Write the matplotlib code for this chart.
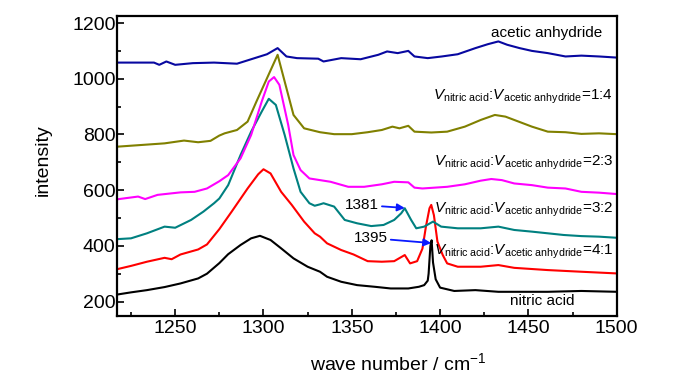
"""Raman spectra of nitric acid / acetic anhydride mixtures."""

import matplotlib
matplotlib.use("Agg")  # headless rendering
import matplotlib.pyplot as plt

plt.rcParams["font.family"] = ["Liberation Sans", "DejaVu Sans"]
plt.rcParams["mathtext.fontset"] = "custom"
plt.rcParams["mathtext.rm"] = "Liberation Sans"
plt.rcParams["mathtext.it"] = "Liberation Sans:italic"

# ---------------------------------------------------------------------------
# Data
# ---------------------------------------------------------------------------

wn_nitric = [1217, 1225, 1234, 1244, 1253, 1263, 1268, 1275, 1280, 1287, 1293,
             1298, 1304, 1310, 1317, 1325, 1332, 1336, 1344, 1353, 1363, 1372,
             1382, 1388, 1391, 1393, 1393.5, 1394.5, 1395.2, 1396, 1397.5, 1400,
             1408, 1420, 1433, 1445, 1461, 1480, 1500]
int_nitric = [225, 233, 241, 252, 265, 283, 300, 338, 370, 403, 427,
              436, 421, 391, 355, 325, 307, 289, 271, 259, 253, 247,
              247, 253, 259, 275, 300, 400, 420, 340, 280, 250,
              238, 241, 235, 235, 235, 238, 235]

wn_41 = [1217, 1225, 1234, 1244, 1248, 1253, 1263, 1268, 1275, 1282, 1291,
         1297, 1300, 1304, 1310, 1316, 1323, 1329, 1332, 1336, 1344, 1351,
         1359, 1367, 1374, 1380, 1383, 1387, 1390, 1392, 1394, 1395, 1396.5,
         1398.5, 1401.5, 1404, 1410, 1423, 1433, 1442, 1461, 1480, 1500]
int_41 = [316, 328, 343, 357, 352, 369, 387, 405, 460, 523, 606,
          657, 675, 660, 594, 547, 487, 445, 433, 409, 385, 369,
          345, 343, 345, 367, 337, 345, 390, 470, 535, 547, 510,
          415, 367, 337, 325, 325, 331, 321, 313, 307, 301]

wn_32 = [1217, 1225, 1234, 1244, 1250, 1259, 1266, 1272, 1275, 1280, 1287,
         1293, 1299, 1303, 1307, 1312, 1317, 1321, 1326, 1329, 1332, 1334,
         1340, 1346, 1353, 1361, 1368, 1374, 1378, 1380, 1383.6, 1386.5,
         1391, 1396, 1400.6, 1410, 1423, 1433, 1442, 1452, 1461, 1470, 1480,
         1490, 1500]
int_32 = [424, 427, 445, 469, 465, 493, 523, 553, 570, 618, 726,
          810, 882, 928, 906, 798, 678, 594, 553, 544, 549, 553,
          541, 493, 481, 471, 475, 493, 517, 535, 493, 463,
          469, 487, 469, 463, 463, 469, 457, 451, 445, 439, 435,
          433, 429]

wn_23 = [1217, 1229, 1233, 1240, 1253, 1261, 1268, 1275, 1280, 1287, 1293,
         1299, 1303, 1306, 1309, 1314, 1317, 1321, 1326, 1332, 1338, 1348,
         1357, 1367, 1374, 1382, 1385.5, 1390, 1404, 1414, 1423, 1429, 1435,
         1442, 1452, 1461, 1471, 1480, 1490, 1500]
int_23 = [567, 577, 568, 583, 592, 594, 606, 632, 654, 714, 798,
          918, 990, 1006, 978, 834, 726, 672, 642, 636, 630, 612,
          612, 621, 630, 628, 609, 606, 612, 621, 634, 640, 636,
          624, 618, 609, 606, 594, 591, 586]

wn_14 = [1217, 1244, 1255, 1263, 1270, 1275, 1278, 1285, 1291, 1296, 1302,
         1308, 1312, 1317, 1323, 1332, 1340, 1350, 1359, 1367, 1373, 1377,
         1382, 1385.5, 1395, 1404, 1414, 1423, 1431, 1437, 1442, 1452, 1461,
         1471, 1480, 1490, 1500]
int_14 = [756, 768, 778, 772, 777, 796, 804, 816, 846, 918, 1002,
          1086, 990, 870, 822, 808, 801, 801, 808, 816, 828, 822,
          831, 810, 807, 810, 828, 852, 870, 864, 852, 828, 810,
          808, 802, 804, 801]

wn_acetic = [1217, 1238, 1241, 1245, 1250, 1260, 1272, 1285, 1295, 1302,
             1308, 1313, 1319, 1331, 1334, 1344, 1355, 1365, 1370, 1376,
             1382, 1385.5, 1393, 1401, 1410, 1420, 1427, 1433, 1438, 1445,
             1452, 1461, 1471, 1480, 1490, 1500]
int_acetic = [1058, 1058, 1050, 1062, 1050, 1056, 1058, 1054, 1074, 1088,
              1110, 1080, 1074, 1072, 1062, 1074, 1070, 1086, 1098, 1092,
              1100, 1080, 1074, 1080, 1088, 1110, 1124, 1134, 1122, 1110,
              1100, 1092, 1080, 1083, 1080, 1076]

ratio_labels = ["1:4", "2:3", "3:2", "4:1"]

# ---------------------------------------------------------------------------
# Figure
# ---------------------------------------------------------------------------

fig = plt.figure(figsize=(7.0, 3.74), dpi=100)
ax = fig.add_axes([0.167, 0.155, 0.714, 0.802])

lw = 1.5
ax.plot(wn_nitric, int_nitric, color="black", lw=lw)
ax.plot(wn_41, int_41, color="#ff0000", lw=lw)
ax.plot(wn_32, int_32, color="#008080", lw=lw)
ax.plot(wn_23, int_23, color="#ff00ff", lw=lw)
ax.plot(wn_14, int_14, color="#808000", lw=lw)
ax.plot(wn_acetic, int_acetic, color="#0808a0", lw=lw)

ax.set_xlim(1217, 1500)
ax.set_ylim(148, 1225)
ax.set_xticks([1250, 1300, 1350, 1400, 1450, 1500])
ax.set_xticks([1225, 1275, 1325, 1375, 1425, 1475], minor=True)
ax.set_yticks([200, 400, 600, 800, 1000, 1200])
ax.set_yticks([300, 500, 700, 900, 1100], minor=True)

ax.tick_params(which="both", direction="in", top=False, right=False,
               width=1.2, labelsize=14)
ax.tick_params(which="major", length=5)
ax.tick_params(which="minor", length=3)
ax.tick_params(axis="y", pad=1)
ax.tick_params(axis="x", pad=3)
for sp in ax.spines.values():
    sp.set_linewidth(1.6)

ax.set_ylabel("intensity", fontsize=14)
ax.yaxis.set_label_coords(-0.13, 0.52)
ax.set_xlabel("wave number / cm$^{-1}$", fontsize=14)
ax.xaxis.label.set_va("baseline")
ax.xaxis.set_label_coords(0.562, -0.18)

# curve labels
ax.text(1492, 1165, "acetic anhydride", fontsize=11, ha="right", va="center")
ax.text(1458, 187, "nitric acid", fontsize=11, ha="center", va="baseline")
label_y = [924, 687, 521, 367]
for r, y in zip(ratio_labels, label_y):
    ax.text(1498, y,
            r"$V_{\mathrm{nitric\ acid}}$:$V_{\mathrm{acetic\ anhydride}}$=" + r,
            fontsize=11, ha="right", va="baseline")

arrow = dict(arrowstyle="-|>", color="#0a1aff", lw=1.3, mutation_scale=11,
             shrinkA=0, shrinkB=0)
ax.annotate("1381", xy=(1380, 536), xytext=(1365.5, 547), fontsize=11,
            ha="right", va="center", arrowprops=arrow)
ax.annotate("1395", xy=(1395, 410), xytext=(1370.5, 428), fontsize=11,
            ha="right", va="center", arrowprops=arrow)

fig.savefig("out.png", dpi=100)
plt.close(fig)
